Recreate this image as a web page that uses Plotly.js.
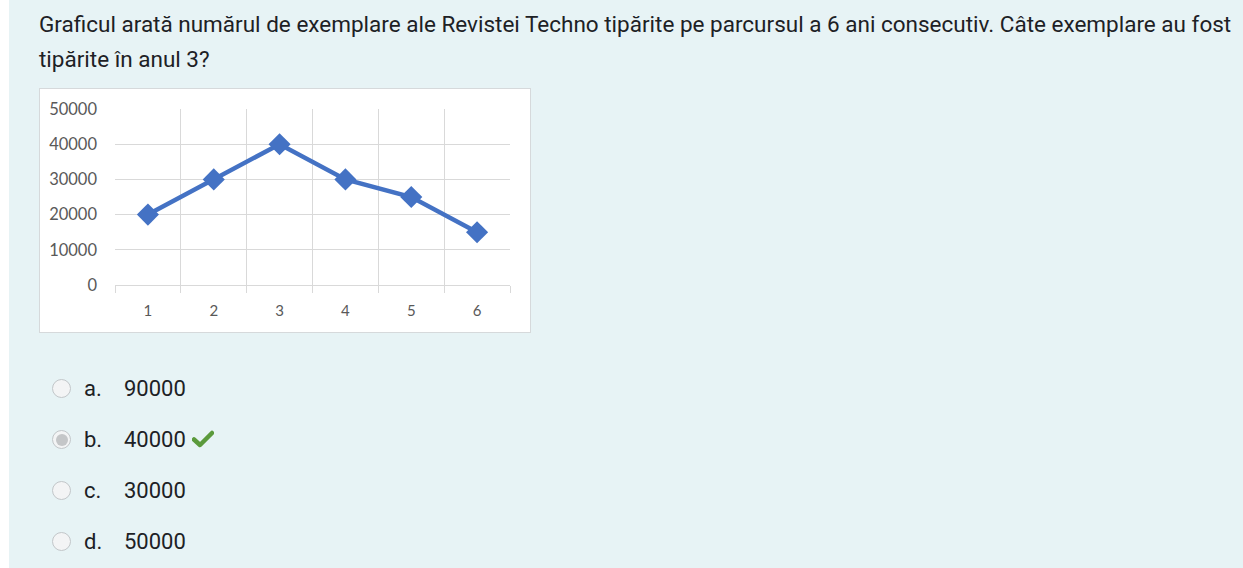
<!DOCTYPE html>
<html>
<head>
<meta charset="utf-8">
<script src="https://cdn.plot.ly/plotly-3.0.1.min.js"></script>
<style>
  html, body { margin: 0; padding: 0; background: #ffffff; width: 1243px; height: 568px; overflow: hidden; }
  .que { position: absolute; left: 9px; top: 0; width: 1234px; height: 568px; background: #e7f3f5; }
  .qtext { position: absolute; left: 39px; font-family: Roboto, sans-serif; font-size: 22.5px; color: #1d2125; white-space: nowrap; }
  .box { position: absolute; left: 39px; top: 88px; width: 490px; height: 243px; background: #ffffff; border: 1px solid #d6d9db; }
  #chart { position: absolute; left: 0; top: 0; width: 490px; height: 243px; }
  .opt { position: absolute; left: 0; height: 30px; font-family: Roboto, sans-serif; font-size: 22px; color: #1d2125; }
  .radio { position: absolute; left: 52px; width: 17px; height: 17px; border-radius: 50%; border: 1.5px solid #c2c6c9; background: #f3f4f5; }
  .dot { position: absolute; left: 2.5px; top: 2.5px; width: 12px; height: 12px; border-radius: 50%; background: #c4c6c8; }
  .lbl { position: absolute; left: 84px; white-space: nowrap; }
  .val { position: absolute; left: 124px; white-space: nowrap; }
</style>
</head>
<body>
<div class="que"></div>
<div class="qtext" style="top:11px;">Graficul arată numărul de exemplare ale Revistei Techno tipărite pe parcursul a 6 ani consecutiv. Câte exemplare au fost</div>
<div class="qtext" style="top:46px;">tipărite în anul 3?</div>
<div class="box"><div id="chart"></div></div>
<div id="opts"></div>
<script>
// ---- data ----
const years = [1, 2, 3, 4, 5, 6];
const yearLabels = ['1', '2', '3', '4', '5', '6'];
const copies = [20000, 30000, 40000, 30000, 25000, 15000];
const yTicks = [0, 10000, 20000, 30000, 40000, 50000];
const yTickLabels = ['0', '10000', '20000', '30000', '40000', '50000'];
const catBounds = [0.5, 1.5, 2.5, 3.5, 4.5, 5.5, 6.5];
const optLetters = ['a.', 'b.', 'c.', 'd.'];
const optValues = ['90000', '40000', '30000', '50000'];
const optSelected = [false, true, false, false];

// ---- options (HTML) ----
const optsDiv = document.getElementById('opts');
const optCenters = [389, 440, 491, 542];
optLetters.forEach((l, i) => {
  const cy = optCenters[i];
  const r = document.createElement('div');
  r.className = 'radio';
  r.style.top = (cy - 10) + 'px';
  if (optSelected[i]) { const d = document.createElement('div'); d.className = 'dot'; r.appendChild(d); }
  optsDiv.appendChild(r);
  const a = document.createElement('div');
  a.className = 'opt lbl';
  a.style.top = (cy - 13) + 'px';
  a.textContent = l;
  optsDiv.appendChild(a);
  const v = document.createElement('div');
  v.className = 'opt val';
  v.style.top = (cy - 13) + 'px';
  v.textContent = optValues[i];
  if (optSelected[i]) {
    v.innerHTML += ' <svg width="22" height="18" viewBox="0 0 22 18" style="vertical-align:-1px;margin-left:1px"><path d="M2 9.5 L8 15 L20 3" fill="none" stroke="#5b9a3c" stroke-width="4.5" stroke-linecap="round" stroke-linejoin="round"/></svg>';
  }
  optsDiv.appendChild(v);
});

// ---- chart ----
const trace = {
  x: years, y: copies, type: 'scatter', mode: 'lines+markers',
  line: { color: '#4472c4', width: 4.5 },
  marker: { symbol: 'diamond', size: 17, color: '#4472c4' },
  hoverinfo: 'skip'
};
const layout = {
  width: 490, height: 243,
  margin: { l: 75, r: 20, t: 20, b: 47 },
  paper_bgcolor: '#ffffff', plot_bgcolor: '#ffffff',
  showlegend: false,
  xaxis: {
    range: [0.5, 6.5], tickmode: 'array', tickvals: years, ticktext: yearLabels,
    showgrid: false, ticks: '', zeroline: false,
    showline: true, linecolor: '#d9d9d9', linewidth: 1,
    ticklabelstandoff: 12,
    tickfont: { family: 'Lato, sans-serif', size: 15, color: '#595959' },
    minor: { tickmode: 'array', tickvals: catBounds, showgrid: true, gridcolor: '#d9d9d9', gridwidth: 1,
             ticks: 'outside', ticklen: 7, tickcolor: '#d9d9d9', tickwidth: 1 },
    fixedrange: true
  },
  yaxis: {
    range: [0, 50000], tickmode: 'array', tickvals: yTicks, ticktext: yTickLabels,
    showgrid: true, gridcolor: '#d9d9d9', gridwidth: 1, zeroline: false,
    ticks: '', ticklabelstandoff: 17,
    tickfont: { family: 'Lato, sans-serif', size: 16.5, color: '#595959' },
    fixedrange: true
  }
};
Plotly.newPlot('chart', [trace], layout, { displayModeBar: false, staticPlot: true });
</script>
</body>
</html>
